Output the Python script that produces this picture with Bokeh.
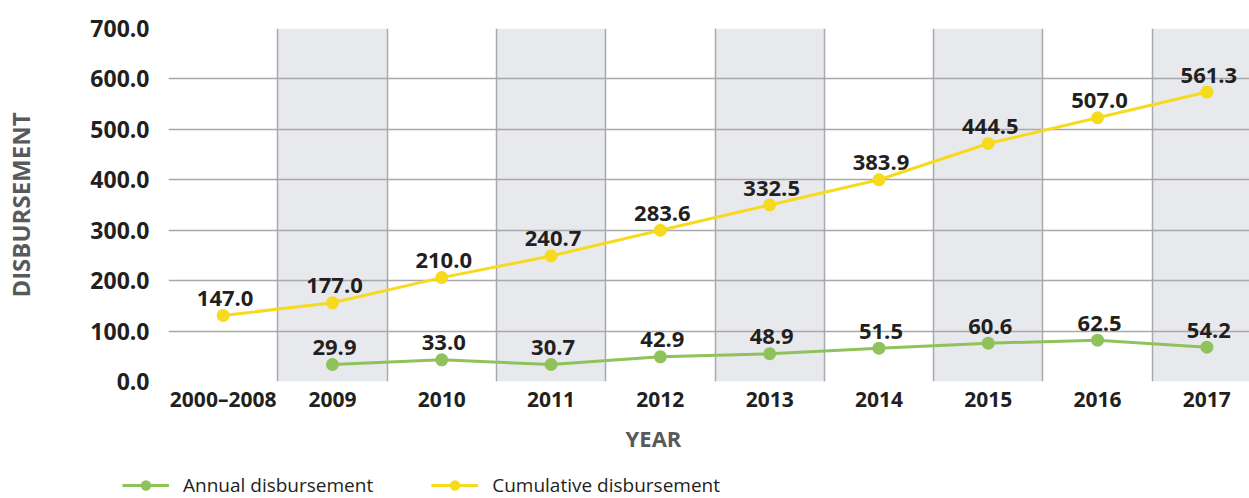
from bokeh.plotting import figure
from bokeh.layouts import column, row
from bokeh.models import FixedTicker, NumeralTickFormatter, Legend, LegendItem
from bokeh.core.properties import value
from bokeh.embed import file_html
from bokeh.resources import INLINE

categories = ["2000–2008", "2009", "2010", "2011", "2012", "2013", "2014", "2015", "2016", "2017"]
cumulative = [131, 156, 206, 249, 300, 350, 400, 472, 523, 574]
cumulative_text = ["147.0", "177.0", "210.0", "240.7", "283.6", "332.5", "383.9", "444.5", "507.0", "561.3"]
annual_years = categories[1:]
annual = [33.7, 43, 33.7, 49, 55, 66, 76, 82, 68]
annual_text = ["29.9", "33.0", "30.7", "42.9", "48.9", "51.5", "60.6", "62.5", "54.2"]
y_ticks = [0, 100, 200, 300, 400, 500, 600, 700]
series_names = ["Annual disbursement", "Cumulative disbursement"]
x_title = "YEAR"
y_title = "DISBURSEMENT"

FONT = "Open Sans"
YELLOW = "#f6da1e"
GREEN = "#8fc25a"
GRID = "#a7a9ac"
SHADE = "#e8e9ed"
DARK = "#231f20"
GREY = "#58595b"

pos = {c: i + 0.5 for i, c in enumerate(categories)}
xc = [pos[c] for c in categories]
xa = [pos[c] for c in annual_years]

W = 1249
H1 = 415
H2 = 498 - H1
p = figure(width=W, height=H1, x_range=(0, 9.89), y_range=(0, 700),
           output_backend="svg", toolbar_location=None,
           min_border_left=168, min_border_right=0, min_border_top=28, min_border_bottom=34)
p.outline_line_color = None
p.background_fill_color = "white"

# shaded alternating columns
shade_x = [pos[c] for i, c in enumerate(categories) if i % 2 == 1]
p.vbar(x=shade_x, top=[700] * len(shade_x), bottom=0, width=1.0,
       fill_color=SHADE, line_color=None, level="image")

# grids
p.ygrid.ticker = FixedTicker(ticks=y_ticks)
p.xgrid.ticker = FixedTicker(ticks=list(range(0, len(categories) + 1)))
for g in (p.xgrid, p.ygrid):
    g.grid_line_color = GRID
    g.grid_line_width = 1.5

# lines
p.line(xc, cumulative, line_color=YELLOW, line_width=3)
p.scatter(xc, cumulative, size=13, fill_color=YELLOW, line_color=None)
p.line(xa, annual, line_color=GREEN, line_width=3)
p.scatter(xa, annual, size=13, fill_color=GREEN, line_color=None)

# data labels
for xs, ys, ts in ((xc, cumulative, cumulative_text), (xa, annual, annual_text)):
    p.text(xs, ys, text=ts, text_font=value(FONT), text_font_size="22px", text_font_style="bold",
           text_color=DARK, text_align="center", text_baseline="alphabetic", x_offset=2, y_offset=-17)

# axes
p.xaxis.ticker = FixedTicker(ticks=xc)
p.xaxis.major_label_overrides = {x: c for x, c in zip(xc, categories)}
p.yaxis.ticker = FixedTicker(ticks=y_ticks)
p.yaxis.formatter = NumeralTickFormatter(format="0.0")
for ax in (p.xaxis, p.yaxis):
    ax.axis_line_color = None
    ax.major_tick_line_color = None
    ax.minor_tick_line_color = None
    ax.major_label_text_font = FONT
    ax.major_label_text_font_style = "bold"
    ax.major_label_text_color = DARK
    ax.axis_label_text_font = FONT
    ax.axis_label_text_font_style = "bold"
    ax.axis_label_text_color = GREY
p.yaxis.axis_label_text_font_size = "24px"
p.xaxis.major_label_text_font_size = "21px"
p.yaxis.major_label_text_font_size = "23px"
p.xaxis.major_label_standoff = -3
p.yaxis.major_label_standoff = 13
p.yaxis.axis_label = y_title
p.yaxis.axis_label_standoff = 50

# strip below the chart: x-axis title and legend
q = figure(width=W, height=H2, x_range=(0, W), y_range=(0, H2),
           output_backend="svg", toolbar_location=None,
           x_axis_location=None, y_axis_location=None, min_border=0)
q.outline_line_color = None
q.grid.visible = False
q.text(x=[653], y=[61], text=[x_title], text_font=value(FONT), text_font_size="22px",
       text_font_style="bold", text_color=GREY, text_align="center", text_baseline="middle")
items = []
for name, col in zip(series_names, (GREEN, YELLOW)):
    r1 = q.line([-20, -10], [-20, -10], line_color=col, line_width=3)
    r2 = q.scatter([-20], [-20], size=13, fill_color=col, line_color=None)
    items.append(LegendItem(label=name, renderers=[r1, r2]))
lg = Legend(items=items, orientation="horizontal", location=(122, 0), padding=0, margin=0,
            spacing=58, glyph_width=47, glyph_height=26, label_standoff=14,
            background_fill_alpha=0, border_line_alpha=0,
            label_text_font=FONT, label_text_font_size="19px", label_text_color=DARK)
q.add_layout(lg)

layout = column(p, row(q), spacing=0)
open("out.html", "w").write(file_html(layout, INLINE))
